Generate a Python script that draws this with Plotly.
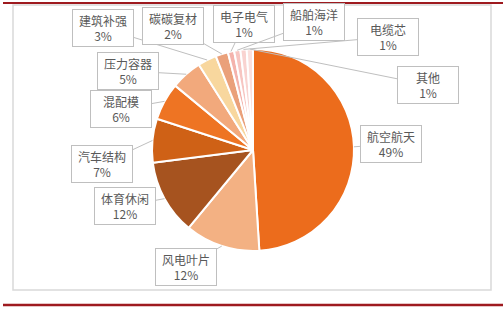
import math
import plotly.graph_objects as go

categories = ["航空航天", "风电叶片", "体育休闲", "汽车结构", "混配模", "压力容器",
              "建筑补强", "碳碳复材", "电子电气", "船舶海洋", "电缆芯", "其他"]
shares = [49, 12, 12, 7, 6, 5, 3, 2, 1, 1, 1, 1]
colors = ["#EC6C1C", "#F3B183", "#A6531F", "#CF6116", "#EE7423", "#F2A97C",
          "#F8D79E", "#EAA07A", "#F4B3AC", "#F7C5C1", "#F9D3D0", "#FBE0DD"]
# label box centres (pixels, from top-left)
label_pos = [(391, 144), (186, 267), (125, 206), (102, 164), (121, 109), (128, 71),
             (103, 28), (173, 26), (244, 24), (314, 22), (388, 37), (428, 85)]

W, H = 503, 310
CX, CY, R = 253, 150, 101

fig = go.Figure(go.Pie(
    labels=categories, values=shares, sort=False, direction="clockwise", rotation=0,
    marker=dict(colors=colors, line=dict(color="white", width=2)),
    textinfo="none", hoverinfo="skip", showlegend=False,
    domain=dict(x=[(CX - R) / W, (CX + R) / W], y=[(H - CY - R) / H, (H - CY + R) / H]),
))

total = sum(shares)
cum = 0
annotations = []
for name, v, (bx, by) in zip(categories, shares, label_pos):
    mid = (cum + v / 2) / total * 2 * math.pi
    cum += v
    tx = CX + R * math.sin(mid)
    ty = CY - R * math.cos(mid)
    annotations.append(dict(
        x=tx / W, y=1 - ty / H, xref="paper", yref="paper",
        ax=bx - tx, ay=by - ty, axref="pixel", ayref="pixel",
        text=f"{name}<br>{v}%", showarrow=True, arrowhead=0, arrowwidth=1,
        arrowcolor="#BFBFBF", standoff=0, startstandoff=0,
        font=dict(family="Noto Sans CJK SC", size=12, color="#595959"),
        bgcolor="white", bordercolor="#BFBFBF", borderwidth=1, borderpad=2,
        width=56, height=32, align="center",
    ))

shapes = [
    dict(type="rect", xref="paper", yref="paper", x0=13 / W, x1=491 / W,
         y0=1 - 290 / H, y1=1 - 5 / H, line=dict(color="#D9D9D9", width=1.5),
         layer="below"),
    dict(type="line", xref="paper", yref="paper", x0=3 / W, x1=1, y0=1 - 3 / H,
         y1=1 - 3 / H, line=dict(color="#9E1A1F", width=2)),
    dict(type="line", xref="paper", yref="paper", x0=3 / W, x1=1, y0=1 - 305 / H,
         y1=1 - 305 / H, line=dict(color="#9E1A1F", width=2.5)),
]

fig.update_layout(
    width=W, height=H, margin=dict(l=0, r=0, t=0, b=0),
    paper_bgcolor="white", plot_bgcolor="white",
    annotations=annotations, shapes=shapes,
)
fig.write_html("out.html")
